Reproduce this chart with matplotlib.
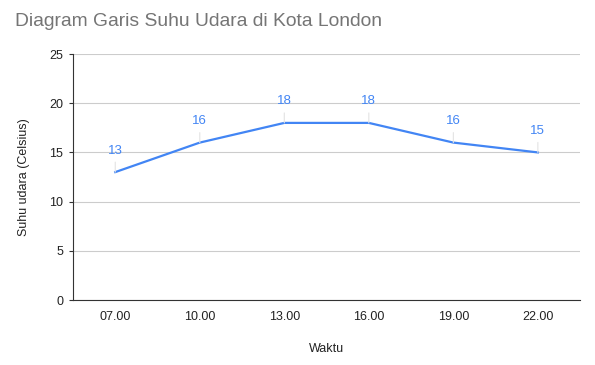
import matplotlib.pyplot as plt

waktu = ["07.00", "10.00", "13.00", "16.00", "19.00", "22.00"]
suhu = [13, 16, 18, 18, 16, 15]
y_ticks = [0, 5, 10, 15, 20, 25]

plt.rcParams['font.family'] = ['Liberation Sans', 'DejaVu Sans']

fig = plt.figure(figsize=(5.95, 3.65), dpi=100)
ax = fig.add_axes([0.1227, 0.178, 0.8523, 0.674])

x = list(range(len(waktu)))
ax.plot(x, suhu, color='#4285F4', linewidth=1.6, zorder=3)

# data labels with faint leader lines
for xi, v in zip(x, suhu):
    ax.annotate(str(v), xy=(xi, v), xytext=(0, 15.5), textcoords='offset points',
                ha='center', va='center', color='#4285F4', fontsize=9.5,
                arrowprops={'arrowstyle': '-', 'color': '#e3e3e3', 'lw': 0.8,
                            'shrinkA': 2, 'shrinkB': 0})

ax.set_xlim(-0.5, len(waktu) - 0.5)
ax.set_ylim(0, 25)
ax.set_xticks(x)
ax.set_xticklabels(waktu)
ax.set_yticks(y_ticks)
ax.grid(axis='y', color='#cccccc', linewidth=0.8)
ax.set_axisbelow(True)

for s in ['top', 'right']:
    ax.spines[s].set_visible(False)
ax.spines['left'].set_color('#333333')
ax.spines['bottom'].set_color('#333333')
ax.tick_params(axis='x', length=0, pad=8, labelsize=9, labelcolor='#222222')
ax.tick_params(axis='y', length=3, width=0.8, color='#333333', pad=4,
               labelsize=9, labelcolor='#222222')

ax.set_xlabel("Waktu", fontsize=9, color='#222222', labelpad=14)
ax.set_ylabel("Suhu udara (Celsius)", fontsize=9, color='#222222', labelpad=14)

fig.text(15 / 595, 1 - 21 / 365, "Diagram Garis Suhu Udara di Kota London",
         fontsize=13.9, color='#757575', ha='left', va='center')

fig.savefig("out.png", dpi=100, facecolor='white')
